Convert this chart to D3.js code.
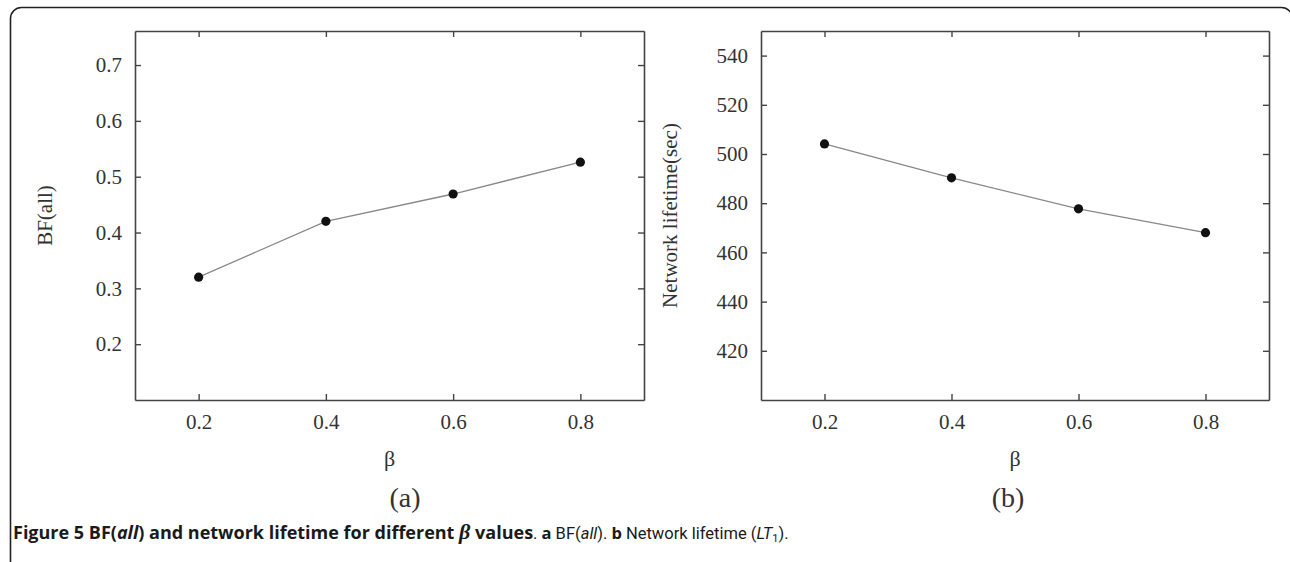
<!DOCTYPE html>
<html>
<head>
<meta charset="utf-8">
<script src="https://cdn.jsdelivr.net/npm/d3@7"></script>
<style>
  body { margin: 0; background: #fff; }
  svg { display: block; }
</style>
</head>
<body>
<div id="chart"></div>
<script>
// values
const betas = [0.2, 0.4, 0.6, 0.8];
const bfAll = [0.32, 0.42, 0.469, 0.526];
const lifetime = [504.1, 490.3, 477.7, 468.0];
const xTicks = [0.2, 0.4, 0.6, 0.8];
const bfTicks = [0.2, 0.3, 0.4, 0.5, 0.6, 0.7];
const lifeTicks = [420, 440, 460, 480, 500, 520, 540];

const W = 1290, H = 562;
const serif = "'Liberation Serif', 'Times New Roman', serif";
const axisColor = "#444";

const svg = d3.select("#chart").append("svg")
    .attr("width", W)
    .attr("height", H);

// outer rounded frame
svg.append("rect")
    .attr("x", 10.5).attr("y", 7.5)
    .attr("width", 1282).attr("height", 570)
    .attr("rx", 11)
    .attr("fill", "none")
    .attr("stroke", "#222")
    .attr("stroke-width", 1.6);

function panel(opts) {
    const {left, right, top, bottom, xDomain, yDomain, yTickVals, yFmt, values, yLabel, yLabelX, tag, tagX} = opts;

    const x = d3.scaleLinear().domain(xDomain).range([left, right]);
    const y = d3.scaleLinear().domain(yDomain).range([bottom, top]);

    const g = svg.append("g");

    // bottom axis, ticks pointing inwards
    const bx = g.append("g")
        .attr("transform", `translate(0,${bottom})`)
        .call(d3.axisBottom(x).tickValues(xTicks).tickSize(-6).tickPadding(14).tickFormat(d3.format(".1f")).tickSizeOuter(0));
    // top axis, ticks only
    const tx = g.append("g")
        .attr("transform", `translate(0,${top})`)
        .call(d3.axisTop(x).tickValues(xTicks).tickSize(-6).tickFormat("").tickSizeOuter(0));
    // left axis
    const ly = g.append("g")
        .attr("transform", `translate(${left},0)`)
        .call(d3.axisLeft(y).tickValues(yTickVals).tickSize(-6).tickPadding(13).tickFormat(yFmt).tickSizeOuter(0));
    // right axis, ticks only
    const ry = g.append("g")
        .attr("transform", `translate(${right},0)`)
        .call(d3.axisRight(y).tickValues(yTickVals).tickSize(-6).tickFormat("").tickSizeOuter(0));

    [bx, tx, ly, ry].forEach(a => {
        a.select(".domain").attr("stroke", axisColor).attr("stroke-width", 1.6);
        a.selectAll(".tick line").attr("stroke", axisColor).attr("stroke-width", 1.4);
        a.selectAll("text")
            .attr("font-family", serif)
            .attr("font-size", 21)
            .attr("fill", "#333");
    });

    const line = d3.line()
        .x((d, i) => x(betas[i]))
        .y(d => y(d));

    g.append("path")
        .datum(values)
        .attr("d", line)
        .attr("fill", "none")
        .attr("stroke", "#888")
        .attr("stroke-width", 1.3);

    g.selectAll("circle.pt")
        .data(values)
        .enter()
        .append("circle")
        .attr("class", "pt")
        .attr("cx", (d, i) => x(betas[i]))
        .attr("cy", d => y(d))
        .attr("r", 4.6)
        .attr("fill", "#111");

    // x label
    g.append("text")
        .attr("x", (left + right) / 2)
        .attr("y", 466)
        .attr("text-anchor", "middle")
        .attr("font-family", serif)
        .attr("font-size", 22)
        .attr("fill", "#333")
        .text("β");

    // y label
    g.append("text")
        .attr("transform", `translate(${yLabelX},${(top + bottom) / 2}) rotate(-90)`)
        .attr("text-anchor", "middle")
        .attr("font-family", serif)
        .attr("font-size", 21)
        .attr("fill", "#333")
        .text(yLabel);

    // panel tag
    g.append("text")
        .attr("x", tagX)
        .attr("y", 507)
        .attr("text-anchor", "middle")
        .attr("font-family", serif)
        .attr("font-size", 28)
        .attr("fill", "#333")
        .text(tag);
}

panel({
    left: 135, right: 644, top: 31, bottom: 400,
    xDomain: [0.1, 0.9], yDomain: [0.1, 0.761],
    yTickVals: bfTicks, yFmt: d3.format(".1f"),
    values: bfAll, yLabel: "BF(all)", yLabelX: 52,
    tag: "(a)", tagX: 405
});

panel({
    left: 761, right: 1269, top: 31, bottom: 400,
    xDomain: [0.1, 0.9], yDomain: [400, 550],
    yTickVals: lifeTicks, yFmt: d3.format("d"),
    values: lifetime, yLabel: "Network lifetime(sec)", yLabelX: 677,
    tag: "(b)", tagX: 1008
});

// caption: bold lead sentence, lighter narrower tail
const boldFont = "'Open Sans', 'Noto Sans', sans-serif";
const narrowFont = "'Liberation Sans Narrow', 'Roboto', sans-serif";

const cap = svg.append("text")
    .attr("x", 13)
    .attr("y", 539)
    .attr("font-family", boldFont)
    .attr("font-size", 18)
    .attr("fill", "#1a1a1a");

const parts = [
    {t: "Figure 5 BF(", w: "bold"},
    {t: "all", w: "bold", s: "italic"},
    {t: ") and network lifetime for different ", w: "bold"},
    {t: "β", w: "bold", s: "italic", f: serif, size: 22},
    {t: " values", w: "bold"},
    {t: ". ", n: true},
    {t: "a", w: "bold", size: 16.5},
    {t: " BF(", n: true},
    {t: "all", s: "italic", n: true},
    {t: "). ", n: true},
    {t: "b", w: "bold", size: 16.5},
    {t: " Network lifetime (", n: true},
    {t: "LT", s: "italic", n: true},
    {t: "1", size: 11, dy: 3, n: true},
    {t: ").", dy: -3, n: true}
];

parts.forEach(p => {
    const ts = cap.append("tspan").text(p.t);
    if (p.w) ts.attr("font-weight", p.w);
    if (p.s) ts.attr("font-style", p.s);
    if (p.f) ts.attr("font-family", p.f);
    if (p.n) ts.attr("font-family", narrowFont).attr("font-size", p.size || 16.5);
    else if (p.size) ts.attr("font-size", p.size);
    if (p.dy) ts.attr("dy", p.dy);
});
</script>
</body>
</html>
